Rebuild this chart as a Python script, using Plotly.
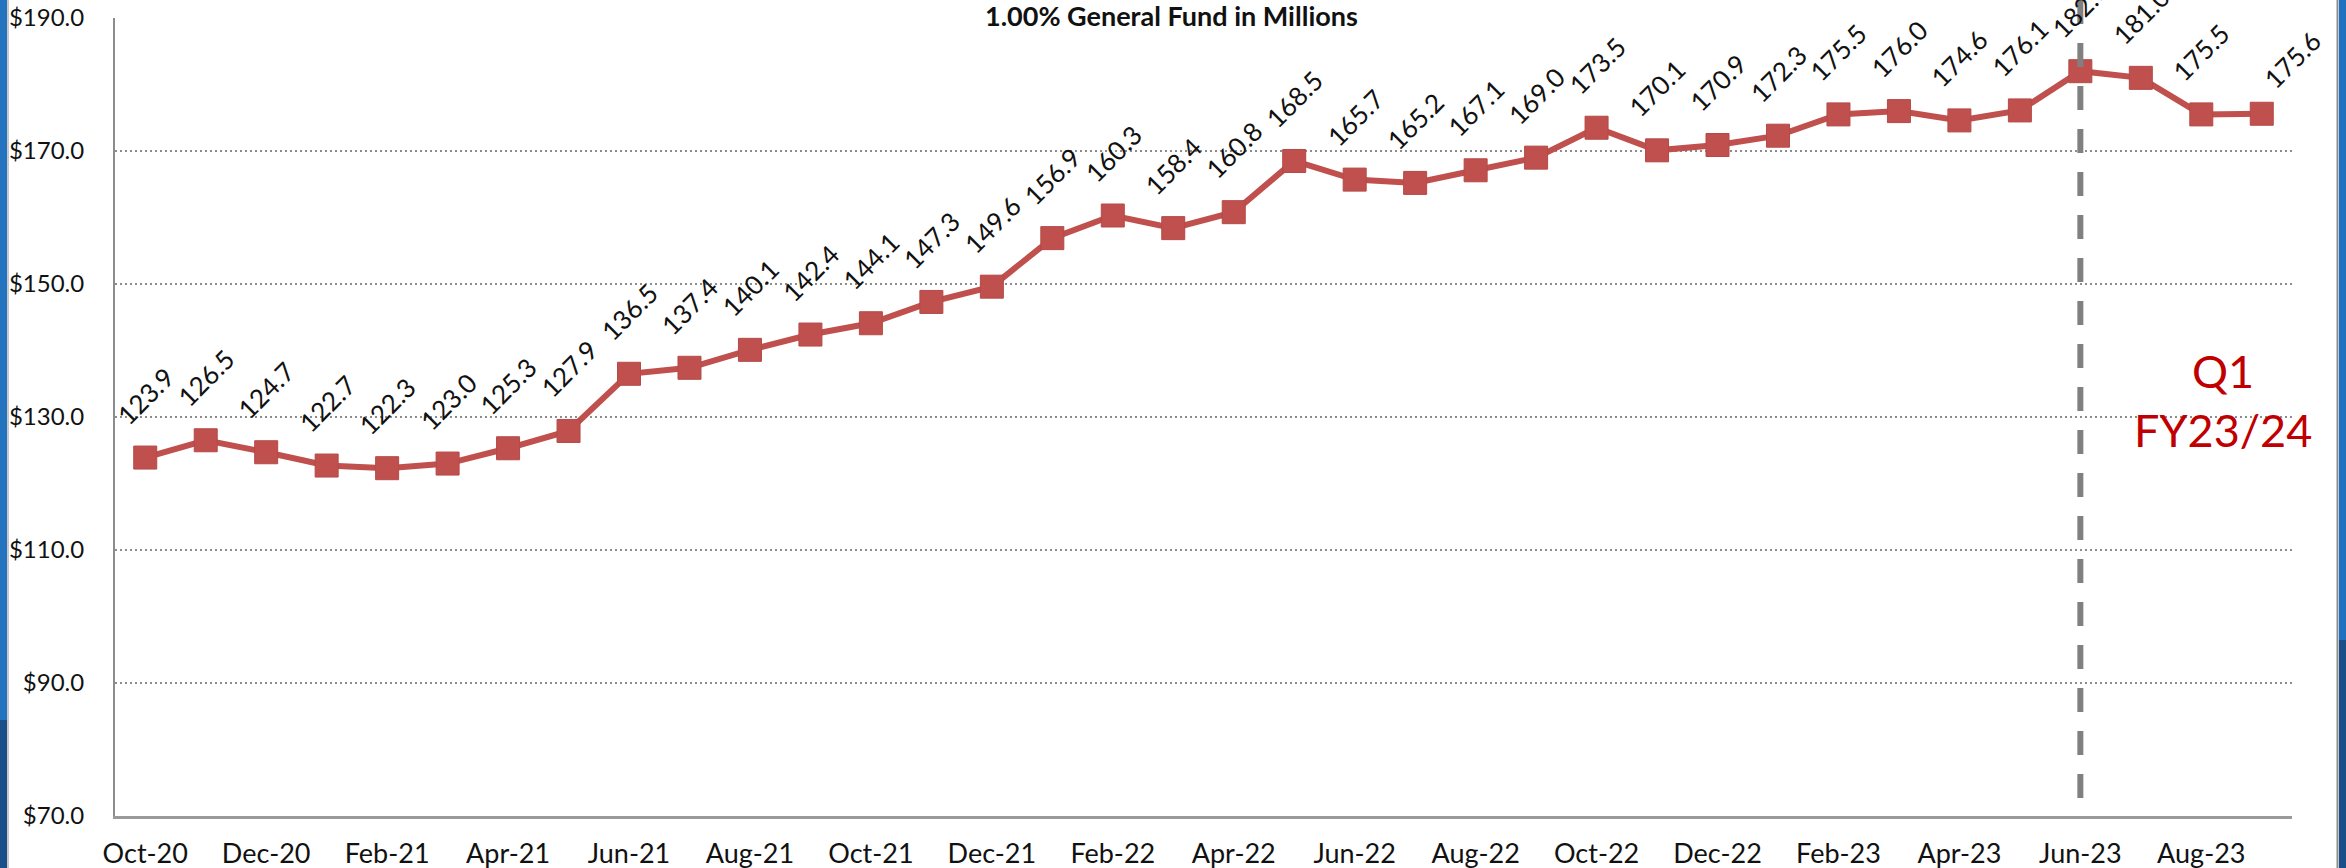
import plotly.graph_objects as go

months = ["Oct-20", "Nov-20", "Dec-20", "Jan-21", "Feb-21", "Mar-21", "Apr-21", "May-21",
          "Jun-21", "Jul-21", "Aug-21", "Sep-21", "Oct-21", "Nov-21", "Dec-21", "Jan-22",
          "Feb-22", "Mar-22", "Apr-22", "May-22", "Jun-22", "Jul-22", "Aug-22", "Sep-22",
          "Oct-22", "Nov-22", "Dec-22", "Jan-23", "Feb-23", "Mar-23", "Apr-23", "May-23",
          "Jun-23", "Jul-23", "Aug-23", "Sep-23"]
values = [123.9, 126.5, 124.7, 122.7, 122.3, 123.0, 125.3, 127.9,
          136.5, 137.4, 140.1, 142.4, 144.1, 147.3, 149.6, 156.9,
          160.3, 158.4, 160.8, 168.5, 165.7, 165.2, 167.1, 169.0,
          173.5, 170.1, 170.9, 172.3, 175.5, 176.0, 174.6, 176.1,
          182.0, 181.0, 175.5, 175.6]
tick_months = months[::2]
y_ticks = [70, 90, 110, 130, 150, 170, 190]
y_tick_text = [f"${v:.1f}" for v in y_ticks]
title_text = "1.00% General Fund in Millions"
note_text = "Q1<br>FY23/24"
divider_month = "Jun-23"

W, H = 2346, 868
ML, MR, MT, MB = 115, 54, 18, 52
PW, PH = W - ML - MR, H - MT - MB

def px_x(p):
    return (p - ML) / PW

def px_y(p):
    return (H - MB - p) / PH

FONT = "Lato, 'Open Sans', sans-serif"
RED = "#C0504D"

fig = go.Figure()
fig.add_trace(go.Scatter(
    x=months, y=values, mode="lines+markers",
    line=dict(color=RED, width=6),
    marker=dict(symbol="square", size=23, color=RED, line=dict(color="#b44a47", width=1)),
    hoverinfo="x+y", showlegend=False,
))

annotations = []
for i, (m, v) in enumerate(zip(months, values)):
    last = i == len(months) - 1
    annotations.append(dict(
        x=m, y=v, xref="x", yref="y", text=f"{v:.1f}", showarrow=False,
        textangle=-45, xanchor="center", yanchor="middle",
        xshift=30 if last else 0, yshift=54 if last else 62,
        font=dict(family=FONT, size=26, color="#111111"),
    ))

annotations.append(dict(
    x=px_x(1171), y=1, xref="paper", yref="paper", yshift=3,
    text=f"<b>{title_text}</b>", showarrow=False, xanchor="center", yanchor="middle",
    font=dict(family=FONT, size=27, color="#111111"),
))
annotations.append(dict(
    x=px_x(2223), y=px_y(400), xref="paper", yref="paper",
    text=note_text, showarrow=False, xanchor="center", yanchor="middle",
    font=dict(family=FONT, size=45, color="#C00000"),
))

div_idx = months.index(divider_month)
shapes = [
    dict(type="line", xref="x", yref="paper", x0=div_idx, x1=div_idx,
         y0=px_y(0), y1=px_y(802), layer="above",
         line=dict(color="#808080", width=6, dash="24px,19px")),
    # slide frame strips
    dict(type="rect", xref="paper", yref="paper", x0=px_x(0), x1=px_x(7), y0=px_y(0), y1=px_y(720),
         fillcolor="#2473bf", line=dict(width=0), layer="above"),
    dict(type="rect", xref="paper", yref="paper", x0=px_x(0), x1=px_x(7), y0=px_y(720), y1=px_y(868),
         fillcolor="#1b4f8a", line=dict(width=0), layer="above"),
    dict(type="line", xref="paper", yref="paper", x0=px_x(8), x1=px_x(8), y0=px_y(0), y1=px_y(868),
         line=dict(color="#c8c8c8", width=2), layer="above"),
    dict(type="rect", xref="paper", yref="paper", x0=px_x(2339), x1=px_x(2346), y0=px_y(0), y1=px_y(640),
         fillcolor="#1f72bf", line=dict(width=0), layer="above"),
    dict(type="rect", xref="paper", yref="paper", x0=px_x(2339), x1=px_x(2346), y0=px_y(640), y1=px_y(868),
         fillcolor="#1b4f8a", line=dict(width=0), layer="above"),
    dict(type="line", xref="paper", yref="paper", x0=px_x(2337.5), x1=px_x(2337.5), y0=px_y(0), y1=px_y(868),
         line=dict(color="#8c8c8c", width=2), layer="above"),
]

fig.update_layout(
    width=W, height=H,
    margin=dict(l=ML, r=MR, t=MT, b=MB, pad=0, autoexpand=False),
    paper_bgcolor="white", plot_bgcolor="white",
    font=dict(family=FONT, size=26, color="#111111"),
    annotations=annotations, shapes=shapes,
    xaxis=dict(
        type="category", categoryorder="array", categoryarray=months,
        range=[-0.5, len(months) - 0.5], automargin=False,
        tickmode="array", tickvals=tick_months, ticktext=tick_months,
        showgrid=False, zeroline=False, ticks="",
        showline=True, linecolor="#9a9a9a", linewidth=3,
        tickfont=dict(family=FONT, size=27, color="#111111"),
        ticklabelstandoff=12,
    ),
    yaxis=dict(
        range=[70, 190], automargin=False,
        tickmode="array", tickvals=y_ticks, ticktext=y_tick_text,
        showgrid=True, gridcolor="#8c8c8c", gridwidth=2, griddash="2px,3px",
        zeroline=False, ticks="",
        showline=True, linecolor="#8c8c8c", linewidth=2,
        tickfont=dict(family=FONT, size=24, color="#111111"),
        ticklabelstandoff=24,
    ),
)

fig.write_html(
    "out.html",
    config={"displayModeBar": False},
    post_script="document.body.style.margin='0';document.body.style.overflow='hidden';",
)
